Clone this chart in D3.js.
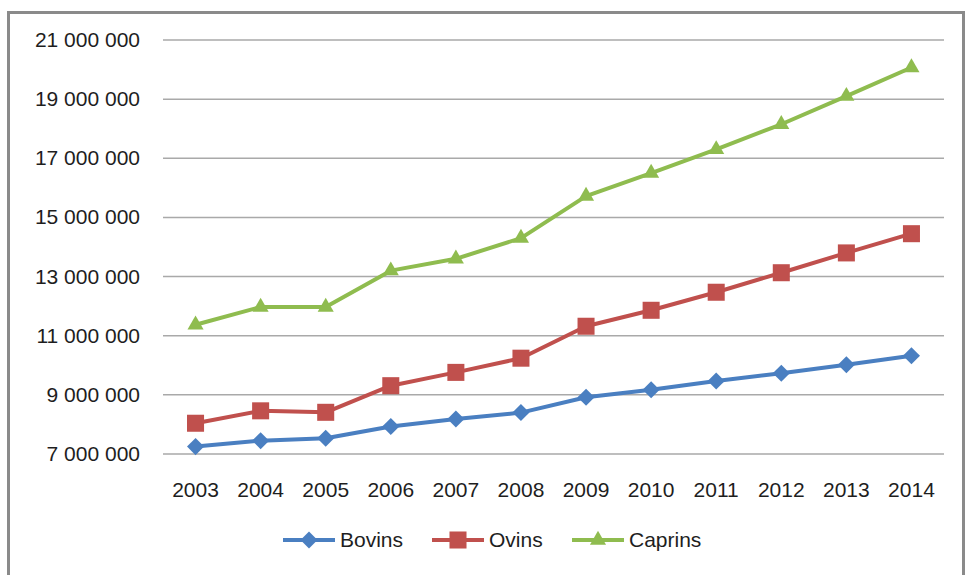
<!DOCTYPE html>
<html>
<head>
<meta charset="utf-8">
<script src="https://cdn.jsdelivr.net/npm/d3@7"></script>
<style>
  body { margin: 0; background: #fff; }
  svg { display: block; }
</style>
</head>
<body>
<script>
// data
var years = ["2003","2004","2005","2006","2007","2008","2009","2010","2011","2012","2013","2014"];
var bovins  = [7250000, 7450000, 7530000, 7930000, 8180000, 8400000, 8920000, 9170000, 9470000, 9730000, 10020000, 10320000];
var ovins   = [8040000, 8460000, 8410000, 9310000, 9760000, 10240000, 11320000, 11860000, 12470000, 13130000, 13800000, 14450000];
var caprins = [11370000, 11970000, 11970000, 13200000, 13600000, 14300000, 15720000, 16500000, 17300000, 18150000, 19100000, 20070000];
var yTicks = [7000000, 9000000, 11000000, 13000000, 15000000, 17000000, 19000000, 21000000];

var series = [
  {name: "Bovins",  values: bovins,  color: "#4a7fc1", marker: "diamond"},
  {name: "Ovins",   values: ovins,   color: "#c0504d", marker: "square"},
  {name: "Caprins", values: caprins, color: "#8fbc4f", marker: "triangle"}
];

var W = 966, H = 575;
var font = "'Liberation Sans', Arial, sans-serif";

var svg = d3.select("body").append("svg")
    .attr("width", W)
    .attr("height", H);

// outer frame
svg.append("rect")
    .attr("x", 8.5).attr("y", 12.5)
    .attr("width", 955).attr("height", 575)
    .attr("fill", "#fff")
    .attr("stroke", "#8a8a8a")
    .attr("stroke-width", 3);

var x = d3.scaleBand().domain(years).range([163, 944]);
var y = d3.scaleLinear().domain([7000000, 21000000]).range([454, 40]);

var fmt = function (v) { return d3.format(",")(v).replace(/,/g, " "); };

// gridlines
svg.append("g").selectAll("line")
    .data(yTicks)
    .enter().append("line")
    .attr("x1", 163).attr("x2", 944)
    .attr("y1", function (d) { return y(d); })
    .attr("y2", function (d) { return y(d); })
    .attr("stroke", "#a9a9a9")
    .attr("stroke-width", 1.5);

// y labels
svg.append("g").selectAll("text")
    .data(yTicks)
    .enter().append("text")
    .attr("x", 140)
    .attr("y", function (d) { return y(d) + 7; })
    .attr("text-anchor", "end")
    .attr("font-family", font)
    .attr("font-size", "21px")
    .attr("fill", "#1e1e1e")
    .text(fmt);

// x labels
svg.append("g").selectAll("text")
    .data(years)
    .enter().append("text")
    .attr("x", function (d) { return x(d) + x.bandwidth() / 2; })
    .attr("y", 497)
    .attr("text-anchor", "middle")
    .attr("font-family", font)
    .attr("font-size", "21px")
    .attr("fill", "#1e1e1e")
    .text(function (d) { return d; });

var symbolFor = function (m) {
  if (m === "diamond") return d3.symbol().type(d3.symbolDiamond2).size(185)();
  if (m === "square") return d3.symbol().type(d3.symbolSquare).size(290)();
  return d3.symbol().type(d3.symbolTriangle2).size(185)();
};

var line = d3.line()
    .x(function (d, i) { return x(years[i]) + x.bandwidth() / 2; })
    .y(function (d) { return y(d); });

series.forEach(function (s) {
  var g = svg.append("g");
  g.append("path")
      .attr("d", line(s.values))
      .attr("fill", "none")
      .attr("stroke", s.color)
      .attr("stroke-width", 4)
      .attr("stroke-linejoin", "round");
  g.selectAll("path.mk")
      .data(s.values)
      .enter().append("path")
      .attr("class", "mk")
      .attr("d", symbolFor(s.marker))
      .attr("transform", function (d, i) {
        return "translate(" + (x(years[i]) + x.bandwidth() / 2) + "," + y(d) + ")";
      })
      .attr("fill", s.color);
});

// legend
var legendX = [283, 432, 572];
var legend = svg.append("g").selectAll("g")
    .data(series)
    .enter().append("g")
    .attr("transform", function (d, i) { return "translate(" + legendX[i] + ",540)"; });

legend.append("line")
    .attr("x1", 0).attr("x2", 52)
    .attr("stroke", function (d) { return d.color; })
    .attr("stroke-width", 4);
legend.append("path")
    .attr("d", function (d) { return symbolFor(d.marker); })
    .attr("transform", "translate(26,0)")
    .attr("fill", function (d) { return d.color; });
legend.append("text")
    .attr("x", 57)
    .attr("y", 7)
    .attr("font-family", font)
    .attr("font-size", "21px")
    .attr("fill", "#1e1e1e")
    .text(function (d) { return d.name; });
</script>
</body>
</html>
